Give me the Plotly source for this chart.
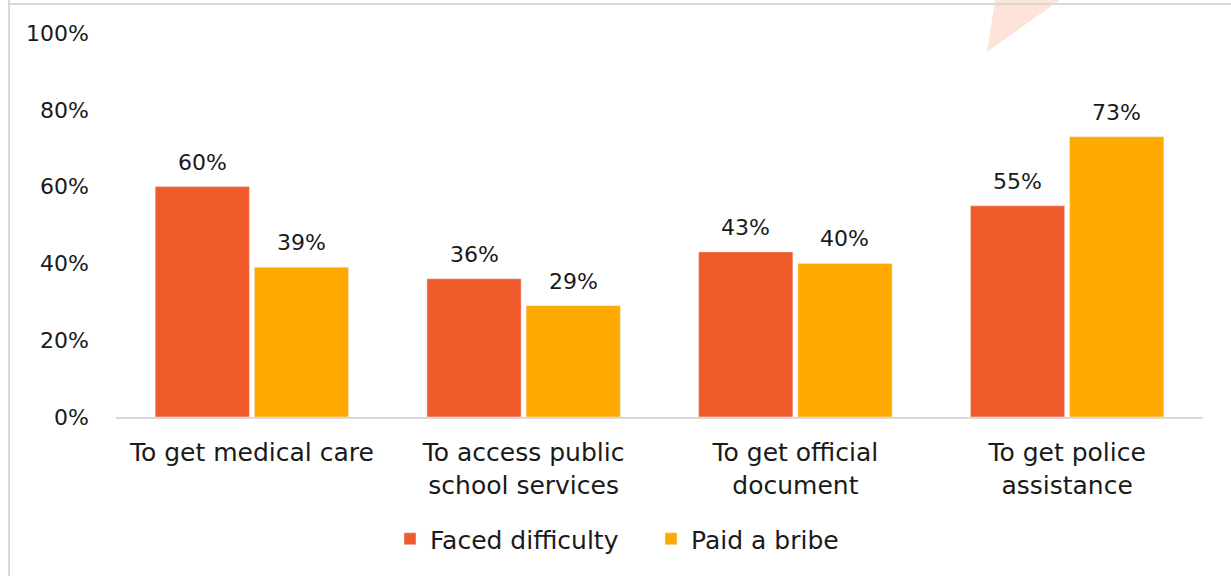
import plotly.graph_objects as go

categories = ["To get medical care", "To access public<br>school services",
              "To get official<br>document", "To get police<br>assistance"]
faced_difficulty = [60, 36, 43, 55]
paid_bribe = [39, 29, 40, 73]
y_ticks = [0, 20, 40, 60, 80, 100]

W, H = 1231, 576
L, R, T, B = 116, 28, 33, 159
FONT = "DejaVu Sans"
TEXT = "#1a1a1a"

RED = "#F15A2B"
ORANGE = "#FFAA00"

BARGAP = 0.27


def px_to_paper(x, y):
    return (x - L) / (W - L - R), (H - B - y) / (H - T - B)


fig = go.Figure()
fig.add_trace(go.Bar(name="Faced difficulty", x=categories, y=faced_difficulty,
                     marker_color=RED))
fig.add_trace(go.Bar(name="Paid a bribe", x=categories, y=paid_bribe,
                     marker_color=ORANGE))

# value labels above each bar, offset to the bar's slot within its group
cat_px = (W - L - R) / len(categories)
slot = cat_px * (1 - BARGAP) / 2
annotations = []
for series, shift in ((faced_difficulty, -slot / 2), (paid_bribe, slot / 2)):
    for cat, v in zip(categories, series):
        annotations.append(dict(
            x=cat, y=v, xref="x", yref="y", text=f"{v}%", showarrow=False,
            xanchor="center", yanchor="bottom", xshift=shift, yshift=10,
            font=dict(size=22, color=TEXT, family=FONT),
        ))

# decorative frame lines and corner triangle
x0, y0 = px_to_paper(9, 0)
x1, y1 = px_to_paper(W, H)
xt, yt = px_to_paper(9, 4)
shapes = [
    dict(type="line", xref="paper", yref="paper", x0=x0, x1=x0, y0=y0, y1=y1,
         line=dict(color="#D9D9D9", width=2)),
    dict(type="line", xref="paper", yref="paper", x0=xt, x1=x1, y0=yt, y1=yt,
         line=dict(color="#D9D9D9", width=2)),
]
p1 = px_to_paper(987, 52)
p2 = px_to_paper(995, 0)
p3 = px_to_paper(1060, 0)
shapes.append(dict(
    type="path", xref="paper", yref="paper",
    path=f"M {p1[0]},{p1[1]} L {p2[0]},{p2[1]} L {p3[0]},{p3[1]} Z",
    fillcolor="#FDE3D8", line=dict(width=0), layer="below",
))

leg_x, leg_y = px_to_paper(390, 516)

fig.update_layout(
    width=W, height=H,
    margin=dict(l=L, r=R, t=T, b=B),
    paper_bgcolor="white", plot_bgcolor="white",
    barmode="group", bargap=BARGAP, bargroupgap=0.05,
    font=dict(family=FONT, size=22, color=TEXT),
    showlegend=True,
    legend=dict(orientation="h", x=leg_x, xanchor="left", y=leg_y, yanchor="top",
                font=dict(size=25, family=FONT, color=TEXT), traceorder="normal",
                entrywidth=216, entrywidthmode="pixels"),
    shapes=shapes,
    annotations=annotations,
)
fig.update_xaxes(showline=True, linecolor="#D9D9D9", linewidth=2,
                 tickfont=dict(size=25, family=FONT, color=TEXT), ticks="",
                 showgrid=False, ticklabelstandoff=12)
fig.update_yaxes(range=[0, 100], tickvals=y_ticks,
                 ticktext=[f"{v}%" for v in y_ticks], showgrid=False,
                 zeroline=False, showline=False, ticks="", ticklabelstandoff=26,
                 tickfont=dict(size=22, family=FONT, color=TEXT))

fig.write_html("out.html")
